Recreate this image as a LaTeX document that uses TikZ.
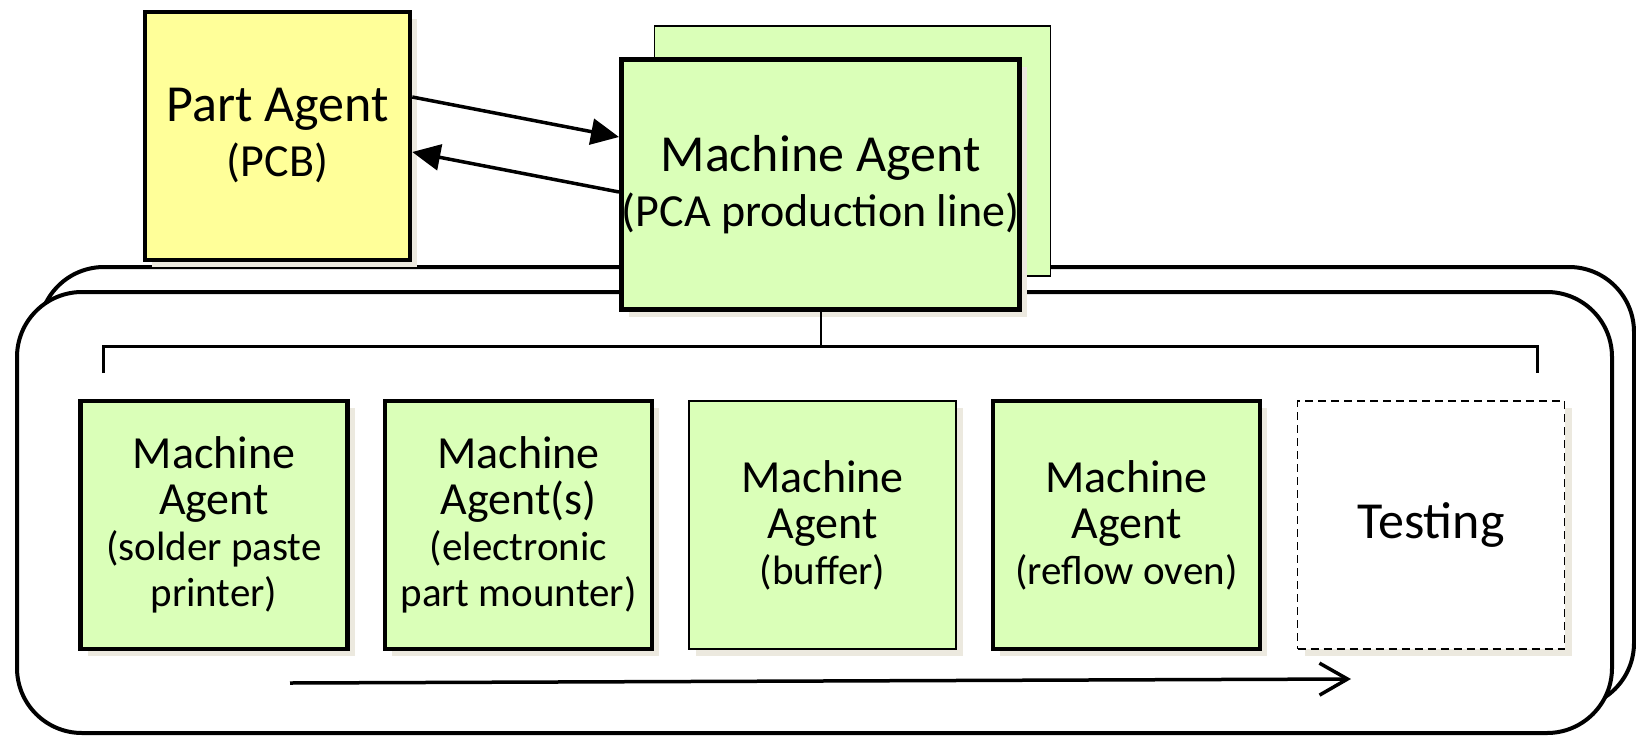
\documentclass[tikz,border=0pt]{standalone}
\usepackage{fontspec}
\setmainfont{Carlito}
\usetikzlibrary{arrows.meta,shadows,calc}
\definecolor{partyellow}{RGB}{255,255,153}
\definecolor{machgreen}{RGB}{218,255,184}
\definecolor{shadegrey}{RGB}{236,233,223}
\newcommand{\agentsub}{\fontsize{46}{55}\selectfont}
\newcommand{\stationsub}{\fontsize{41}{46}\selectfont}
\tikzset{
  boxshade/.style={drop shadow={shadow xshift=7pt,shadow yshift=-7pt,fill=shadegrey,opacity=1}},
  agentbox/.style={draw, inner sep=0pt, align=center, font=\fontsize{52}{55}\selectfont},
  stationbox/.style={draw, inner sep=0pt, align=center, minimum width=267pt, minimum height=248pt, font=\fontsize{46}{46}\selectfont},
  frame/.style={line width=4pt, rounded corners=65pt, fill=white},
  linkarrow/.style={line width=3.5pt, -{Triangle[length=28pt,width=26pt]}},
  flowarrow/.style={line width=3.5pt, -{Straight Barb[length=28pt,width=32pt,line width=3.5pt]}}
}
\begin{document}
\begin{tikzpicture}[x=1pt,y=-1pt]
\useasboundingbox (0,0) rectangle (1636,737);
	%Shape: Rounded frames
	\draw[frame] (39,267) rectangle (1634,708);
	\draw[frame] (17,292) rectangle (1612,733);
	%Bracket and flow
	\coordinate (brkL) at (103,373);
	\coordinate (brkR) at (1537,373);
	\coordinate (brkT) at (820.5,346);
	\draw[line width=3pt] (brkL) |- (brkT) -| (brkR);
	\coordinate (flowS) at (290,683);
	\coordinate (flowE) at (1351,679);
	\draw[flowarrow] (flowS) -- (flowE);
	%Agents
	\node[agentbox, boxshade, fill=partyellow, line width=4.5pt, minimum width=265pt, minimum height=248pt] (part) at (277.5,136) {Part Agent\\{\agentsub (PCB)}};
	\node[agentbox, fill=machgreen, line width=1.5pt, minimum width=396pt, minimum height=250pt] (mlineback) at (852.5,151) {};
	\node[agentbox, boxshade, fill=machgreen, line width=5pt, minimum width=398pt, minimum height=250pt] (mline) at (820.5,184.5) {Machine Agent\\{\agentsub (PCA production line)}};
	\draw[line width=2pt] (mline.south) -- (brkT);
	\draw[linkarrow] ($(part.east)+(0,-39)$) -- ($(mline.west)+(0,-47.5)$);
	\draw[linkarrow] ($(mline.west)+(0,7.5)$) -- ($(part.east)+(0,16)$);
	%Stations
	\node[stationbox, boxshade, fill=machgreen, line width=4.5pt] (solder) at (214,525) {Machine\\Agent\\{\stationsub (solder paste}\\{\stationsub printer)}};
	\node[stationbox, boxshade, fill=machgreen, line width=4.5pt] (mounter) at (518.5,525) {Machine\\Agent(s)\\{\stationsub (electronic}\\{\stationsub part mounter)}};
	\node[stationbox, boxshade, fill=machgreen, line width=1.5pt] (buffer) at (822.5,525) {Machine\\Agent\\{\stationsub (buffer)}};
	\node[stationbox, boxshade, fill=machgreen, line width=4.5pt] (oven) at (1126.5,525) {Machine\\Agent\\{\stationsub (reflow oven)}};
	\node[stationbox, boxshade, fill=white, line width=1.5pt, dash pattern=on 8pt off 5pt, font=\fontsize{52}{52}\selectfont] (testing) at (1431,525) {Testing};
\end{tikzpicture}
\end{document}
